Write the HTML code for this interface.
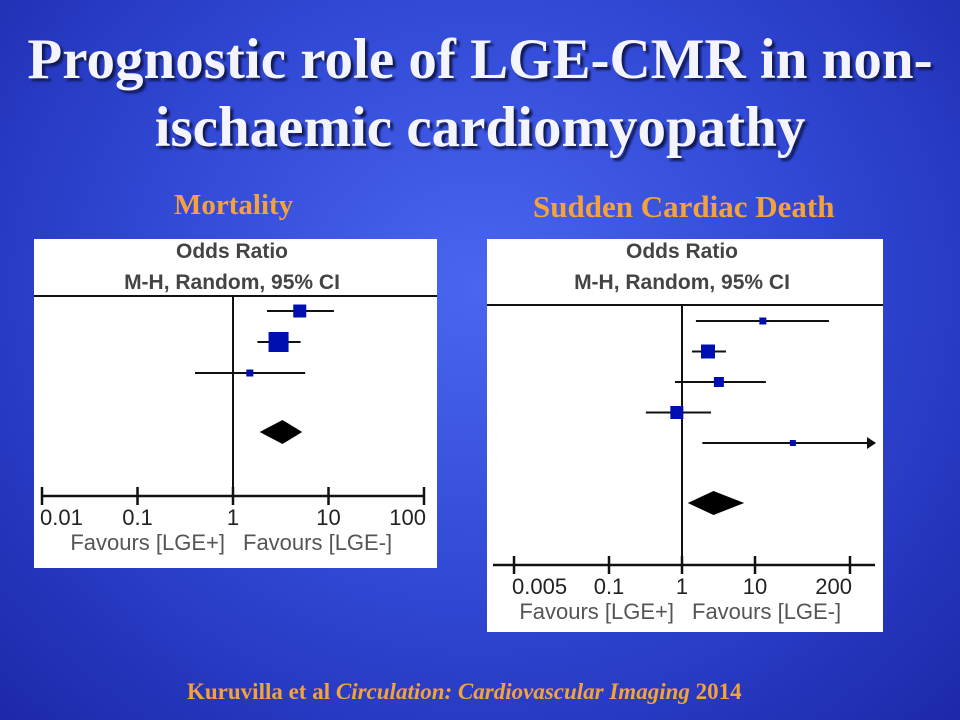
<!DOCTYPE html>
<html><head><meta charset="utf-8"><style>
body{margin:0;width:960px;height:720px;overflow:hidden;background:radial-gradient(ellipse at 50% 40%,#4a66f0 0%,#3048d4 50%,#1c28aa 100%);font-family:"Liberation Serif",serif;}
.t{position:absolute;left:0;width:960px;text-align:center;color:#f4f4ff;font-weight:bold;font-size:57px;text-shadow:3px 3px 2px #111a55;line-height:68px;white-space:nowrap}
.sub{position:absolute;color:#f5a23a;font-weight:bold;font-size:29px;white-space:nowrap}
svg text{font-family:"Liberation Sans",sans-serif}
</style></head><body>
<div class="t" style="top:26px">Prognostic role of LGE-CMR in non-<br>ischaemic cardiomyopathy</div>
<div class="sub" style="left:174px;top:189px">Mortality</div>
<div class="sub" style="left:533px;top:189px;font-size:31px">Sudden Cardiac Death</div>
<div style="position:absolute;left:187px;top:679px;color:#f5a23a;font-weight:bold;font-size:23px;white-space:nowrap">Kuruvilla et al <i>Circulation: Cardiovascular Imaging</i> 2014</div>
<svg id="s" width="960" height="720" style="position:absolute;left:0;top:0"></svg>
<script>
const mortOR=[5.0,3.0,1.5];
const mortLo=[2.27,1.8,0.40];
const mortHi=[11.4,5.1,5.7];
const mortWt=[13,20,7];
const mortPool=[1.9,3.3,5.3];
const mortTicks=[0.01,0.1,1,10,100];
const mortTickLabels=["0.01","0.1","1","10","100"];
const scdOR=[12.8,2.27,3.2,0.85,33];
const scdLo=[1.55,1.37,0.80,0.32,1.9];
const scdHi=[103,4.0,14.1,2.5,500];
const scdWt=[7,14,10,13,6];
const scdPool=[1.2,2.7,7.1];
const scdTicks=[0.005,0.1,1,10,200];
const scdTickLabels=["0.005","0.1","1","10","200"];
const S=document.getElementById('s');const NS='http://www.w3.org/2000/svg';
function mk(t,a,txt){const e=document.createElementNS(NS,t);for(const k in a)e.setAttribute(k,a[k]);if(txt!=null)e.textContent=txt;S.appendChild(e);return e;}
function draw(c,OR,lo,hi,wt,pool,ticks,labels,pre){
 const X=v=>c.x1+Math.log10(v)*c.dec;
 let e=mk('rect',{x:c.px,y:c.py,width:c.pw,height:c.ph,fill:'#fff'});
 
 e=mk('text',{x:c.hx,y:c.py+19,'text-anchor':'middle','font-size':21,fill:'#444','font-weight':'bold'},'Odds Ratio');
 
 e=mk('text',{x:c.hx,y:c.py+50,'text-anchor':'middle','font-size':21,fill:'#444','font-weight':'bold'},'M-H, Random, 95% CI');
 
 e=mk('line',{x1:c.px,x2:c.px+c.pw,y1:c.hy,y2:c.hy,stroke:'#111','stroke-width':2});
 
 e=mk('line',{x1:X(1),x2:X(1),y1:c.hy,y2:c.ay,stroke:'#111','stroke-width':2});
 
 e=mk('line',{x1:c.ax0,x2:c.ax1,y1:c.ay,y2:c.ay,stroke:'#111','stroke-width':2.5});
 
 ticks.forEach((t,i)=>{
  e=mk('line',{x1:X(t),x2:X(t),y1:c.ay-9,y2:c.ay+9,stroke:'#111','stroke-width':2.5});
  
  let anchor=i==0?'start':(i==ticks.length-1?'end':'middle');let xx=i==0?X(t)-2:(i==ticks.length-1?X(t)+2:X(t));
  e=mk('text',{x:xx,y:c.ay+29,'text-anchor':anchor,'font-size':22,fill:'#222'},labels[i]);
  
 });
 e=mk('text',{x:X(1)-8,y:c.ay+54,'text-anchor':'end','font-size':22,fill:'#555'},'Favours [LGE+]');
 
 e=mk('text',{x:X(1)+10,y:c.ay+54,'text-anchor':'start','font-size':22,fill:'#555'},'Favours [LGE-]');
 
 OR.forEach((v,i)=>{
  const y=c.r0+i*c.rs;const xh=Math.min(X(hi[i]),c.ax1);
  e=mk('line',{x1:X(lo[i]),x2:xh,y1:y,y2:y,stroke:'#111','stroke-width':2});
  
  if(X(hi[i])>c.ax1){e=mk('polygon',{points:`${c.ax1-8},${y-6} ${c.ax1+1},${y} ${c.ax1-8},${y+6}`,fill:'#111'});
   }
  const w=wt[i];
  e=mk('rect',{x:X(v)-w/2,y:y-w/2,width:w,height:w,fill:'#0010b0'});
  
 });
 const dy=c.dy;
 e=mk('polygon',{points:`${X(pool[0])},${dy} ${X(pool[1])},${dy-12} ${X(pool[2])},${dy} ${X(pool[1])},${dy+12}`,fill:'#000'});
 
}
draw({px:34,py:239,pw:403,ph:329,hx:232,hy:296,ay:496,x1:233,dec:95.5,ax0:43,ax1:425,r0:311,rs:31,dy:432},mortOR,mortLo,mortHi,mortWt,mortPool,mortTicks,mortTickLabels,'mortality');
draw({px:487,py:239,pw:396,ph:393,hx:682,hy:305,ay:565,x1:682,dec:73,ax0:493,ax1:875,r0:321,rs:30.5,dy:503},scdOR,scdLo,scdHi,scdWt,scdPool,scdTicks,scdTickLabels,'scd');
</script>
</body></html>
